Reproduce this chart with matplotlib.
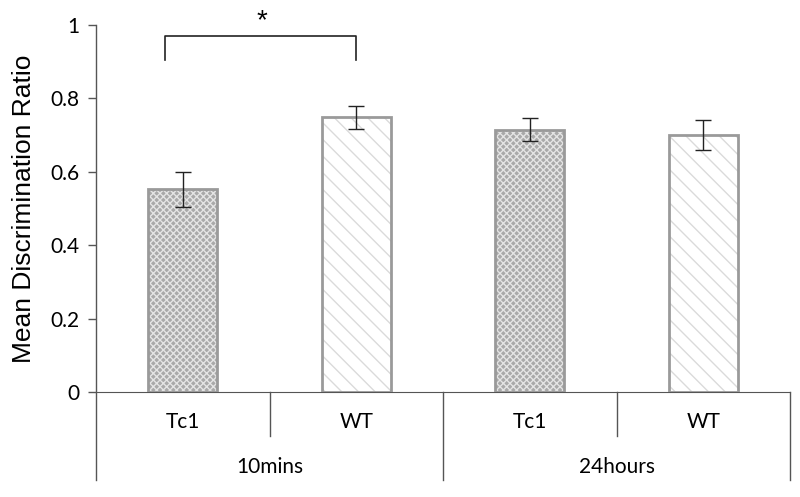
import matplotlib.pyplot as plt
import matplotlib.transforms as mtransforms

groups = ["10mins", "24hours"]
strains = ["Tc1", "WT", "Tc1", "WT"]
means = [0.552, 0.748, 0.715, 0.700]
errors = [0.048, 0.031, 0.032, 0.040]
yticks = [0, 0.2, 0.4, 0.6, 0.8, 1]

fig = plt.figure(figsize=(8, 4.97), dpi=100)
ax = fig.add_axes([0.12, 0.211, 0.8675, 0.739])

x = list(range(len(means)))
faces = ["#a9a9a9" if s == "Tc1" else "white" for s in strains]
hatch_cols = ["#e4e4e4" if s == "Tc1" else "#dadada" for s in strains]
hatches = ["xxxxx" if s == "Tc1" else "\\\\" for s in strains]

for xi, m, fc, hc, h in zip(x, means, faces, hatch_cols, hatches):
    ax.bar(xi, m, width=0.4, color=fc, edgecolor=hc, hatch=h, linewidth=0, zorder=2)
ax.bar(x, means, width=0.4, fill=False, edgecolor="#9a9a9a", linewidth=2, zorder=3)
ax.errorbar(x, means, yerr=errors, fmt="none", ecolor="#222222", elinewidth=1,
            capsize=6, capthick=1, zorder=4)

ax.set_xlim(-0.5, 3.5)
ax.set_ylim(0, 1)
ax.set_yticks(yticks)
ax.set_yticklabels(["0", "0.2", "0.4", "0.6", "0.8", "1"], fontsize=15, family="Lato")
ax.tick_params(axis="y", direction="out", length=6, width=1, color="#555555", pad=6)
ax.set_xticks([])
for s in ["top", "right", "left"]:
    ax.spines[s].set_visible(False)
ax.spines["bottom"].set_color("#555555")
ax.set_ylabel("Mean Discrimination Ratio", fontsize=19, family="Liberation Sans", labelpad=10)

trans = mtransforms.blended_transform_factory(ax.transData, ax.transAxes)
# category dividers below the axis
for d in [-0.5, 0.5, 1.5, 2.5, 3.5]:
    low = -0.24 if d in (-0.5, 1.5, 3.5) else -0.12
    top = 1 if d == -0.5 else 0
    ax.plot([d, d], [top, low], transform=trans, color="#555555", lw=1, clip_on=False)
for xi, s in zip(x, strains):
    ax.text(xi, -0.08, s, transform=trans, ha="center", va="center", fontsize=15, family="Lato")
for gi, g in enumerate(groups):
    ax.text(gi * 2 + 0.5, -0.204, g, transform=trans, ha="center", va="center",
            fontsize=15, family="Lato")

# significance bracket
ax.plot([-0.1, -0.1, 1.0, 1.0], [0.905, 0.97, 0.97, 0.905], color="#222222", lw=1.2, clip_on=False)
ax.text(0.455, 1.01, "*", ha="center", va="center", fontsize=20, family="Liberation Sans")

fig.savefig("out.png", dpi=100)
